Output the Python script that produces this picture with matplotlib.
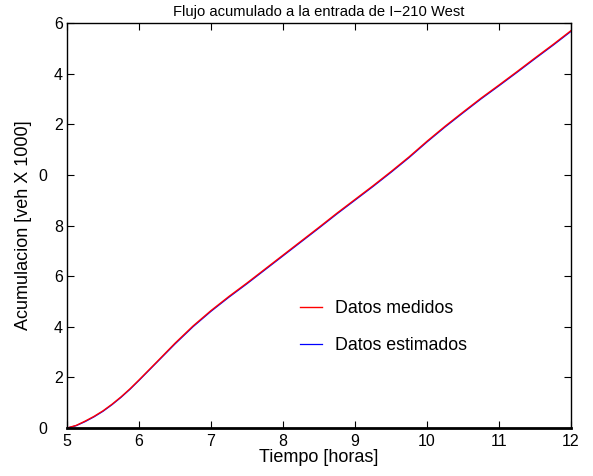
import matplotlib
matplotlib.use('Agg')
import matplotlib.pyplot as plt
from matplotlib.transforms import ScaledTranslation

plt.rcParams['font.family'] = ['Liberation Sans', 'DejaVu Sans']

# tiempo [horas] y acumulacion [veh x 1000]
tiempo = [5.0, 5.125, 5.25, 5.375, 5.5, 5.625, 5.75, 5.875, 6.0, 6.25, 6.5,
          6.75, 7.0, 7.25, 7.5, 7.75, 8.0, 8.25, 8.5, 8.75, 9.0, 9.25, 9.5,
          9.75, 10.0, 10.25, 10.5, 10.75, 11.0, 11.25, 11.5, 11.75, 12.0]
medidos = [0.0, 0.1, 0.27, 0.46, 0.68, 0.94, 1.23, 1.55, 1.9, 2.62, 3.35,
           4.03, 4.64, 5.2, 5.73, 6.28, 6.83, 7.38, 7.93, 8.49, 9.03, 9.57,
           10.13, 10.71, 11.33, 11.92, 12.48, 13.03, 13.55, 14.08, 14.62,
           15.15, 15.7]
estimados = [0.0, 0.09, 0.25, 0.44, 0.66, 0.92, 1.21, 1.53, 1.88, 2.6, 3.32,
             4.0, 4.61, 5.17, 5.7, 6.25, 6.8, 7.35, 7.9, 8.46, 9.0, 9.54,
             10.1, 10.68, 11.3, 11.89, 12.45, 13.0, 13.52, 14.05, 14.59,
             15.12, 15.67]

yticks = [0, 2, 4, 6, 8, 10, 12, 14, 16]
yticklabels = ['0', '2', '4', '6', '8', '0', '2', '4', '6']

fig = plt.figure(figsize=(5.93, 4.76), dpi=100)
ax = fig.add_axes([0.113, 0.1008, 0.850, 0.8509])

ax.plot(tiempo, estimados, color='blue', lw=0.9, label='Datos estimados')
ax.plot(tiempo, medidos, color='red', lw=1.0, label='Datos medidos')

ax.set_xlim(5, 12)
ax.set_ylim(0, 16)
ax.set_xticks(range(5, 13))
ax.set_yticks(yticks)
ax.set_yticklabels(yticklabels)
ax.tick_params(direction='in', length=5, top=True, right=True, labelsize=11.5,
               width=0.8)
ax.tick_params(axis='x', pad=4)
ax.tick_params(axis='y', pad=3)
for s in ax.spines.values():
    s.set_linewidth(1.0)
ax.spines['bottom'].set_linewidth(2.0)

# los "0" quedan desplazados a la izquierda como en la figura original
for lab, txt in zip(ax.get_yticklabels(), yticklabels):
    if txt == '0':
        lab.set_transform(lab.get_transform() +
                          ScaledTranslation(-0.16, 0, fig.dpi_scale_trans))

ax.set_title('Flujo acumulado a la entrada de I\u2212210 West', fontsize=10.6, pad=5)
ax.set_xlabel('Tiempo [horas]', fontsize=13, labelpad=0)
ax.set_ylabel('Acumulacion [veh X 1000]', fontsize=13, labelpad=4)

h, l = ax.get_legend_handles_labels()
ax.legend(h[::-1], l[::-1], loc='upper left', bbox_to_anchor=(0.43, 0.356),
          frameon=False, fontsize=12.8, handlelength=1.25, labelspacing=1.15,
          handletextpad=0.75)

fig.savefig('out.png', dpi=100)
